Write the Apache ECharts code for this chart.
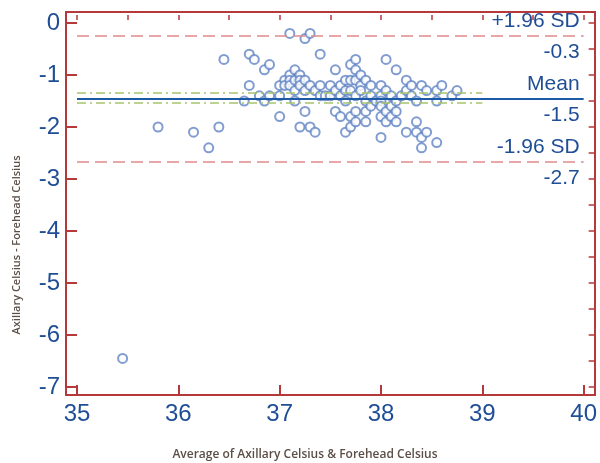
<!DOCTYPE html>
<html>
<head>
<meta charset="utf-8">
<script src="https://cdn.jsdelivr.net/npm/echarts@6/dist/echarts.min.js"></script>
<style>html,body{margin:0;padding:0;background:#fff}#c{width:600px;height:463px}</style>
</head>
<body>
<div id="c"></div>
<script>
// Bland-Altman data: [average, difference]
const points = [
  [35.45,-6.45],[35.8,-2.0],[36.15,-2.1],[36.3,-2.4],[36.4,-2.0],[36.45,-0.7],[36.65,-1.5],
  [36.7,-0.6],[36.75,-0.7],[36.7,-1.2],[36.8,-1.4],[36.85,-1.5],[36.85,-0.9],[36.9,-0.8],
  [36.9,-1.4],[37.0,-1.4],[37.0,-1.2],[37.0,-1.8],
  [37.05,-1.1],[37.05,-1.2],[37.1,-1.0],[37.1,-1.1],[37.1,-1.2],[37.1,-0.2],[37.15,-0.9],
  [37.15,-1.1],[37.15,-1.3],[37.15,-1.5],[37.2,-1.0],[37.2,-1.1],[37.2,-1.2],[37.2,-2.0],
  [37.25,-0.3],[37.25,-1.1],[37.25,-1.3],[37.25,-1.7],[37.3,-0.2],[37.3,-1.2],[37.3,-2.0],
  [37.35,-1.3],[37.35,-2.1],[37.4,-0.6],[37.4,-1.2],[37.4,-1.4],
  [37.45,-1.4],[37.5,-1.2],[37.5,-1.4],[37.55,-0.9],[37.55,-1.3],[37.55,-1.7],[37.6,-1.2],
  [37.6,-1.4],[37.6,-1.8],[37.65,-1.1],[37.65,-1.3],[37.65,-1.5],[37.65,-2.1],[37.7,-0.8],
  [37.7,-1.1],[37.7,-1.3],[37.7,-1.8],[37.7,-2.0],[37.75,-0.7],[37.75,-0.9],[37.75,-1.1],
  [37.75,-1.4],[37.75,-1.7],[37.75,-1.9],
  [37.8,-1.0],[37.8,-1.2],[37.8,-1.3],[37.85,-1.1],[37.85,-1.5],[37.85,-1.7],[37.85,-1.9],
  [37.9,-1.2],[37.9,-1.4],[37.9,-1.6],[37.95,-1.5],[38.0,-1.2],[38.0,-1.4],[38.0,-1.5],
  [38.0,-1.6],[38.0,-1.8],[38.0,-2.2],[38.05,-0.7],[38.05,-1.3],[38.05,-1.7],[38.05,-1.9],
  [38.1,-1.4],[38.1,-1.6],[38.1,-1.8],[38.15,-0.9],[38.15,-1.5],[38.15,-1.7],[38.15,-1.9],
  [38.2,-1.4],[38.25,-1.1],[38.25,-1.3],[38.25,-2.1],[38.3,-1.2],[38.3,-1.4],[38.35,-1.5],
  [38.35,-1.9],[38.35,-2.1],[38.4,-1.2],[38.4,-2.2],[38.4,-2.4],[38.45,-1.3],[38.45,-2.1],
  [38.55,-1.3],[38.55,-1.5],[38.55,-2.3],[38.6,-1.2],[38.7,-1.4],[38.75,-1.3]
];
const meanDiff = -1.46;
const upperLoA = -0.25;
const lowerLoA = -2.67;
const meanCI = [-1.35, -1.54];
const ciRange = [35, 39];
const refNames = ['+1.96 SD', 'Mean', '-1.96 SD'];
const xTicks = [35, 36, 37, 38, 39, 40];
const yRange = [-7, 0];

const BLUE = '#1f4e96';
const RED = '#b5383b';
const LRED = '#e08a8c';
const GREEN = '#a6c46c';
const FONT = 'Arial, "Liberation Sans", sans-serif';
const LBL = {fontFamily: FONT, fontSize: 21, color: BLUE};

function topLabel(t){ return {show:true, position:'insideEndTop', distance:[4,4], formatter:t, ...LBL}; }
function botLabel(t){ return {show:true, position:'insideEndBottom', distance:[4,6], formatter:t, ...LBL}; }

const refs = [
  [upperLoA, refNames[0], {color:LRED, type:[12,6], width:1.5}],
  [meanDiff, refNames[1], {color:'#1d5aa6', type:'solid', width:2}],
  [lowerLoA, refNames[2], {color:LRED, type:[12,6], width:1.5}]
];
const mlData = [];
refs.forEach(r => {
  mlData.push({yAxis:r[0], lineStyle:r[2], label:topLabel(r[1])});
  mlData.push({yAxis:r[0], lineStyle:{color:'rgba(0,0,0,0)', width:0}, label:botLabel(r[0].toFixed(1))});
});
meanCI.forEach(v => {
  mlData.push([{coord:[ciRange[0], v], lineStyle:{color:GREEN, type:[9,4,2,4], width:1.5}, label:{show:false}},
               {coord:[ciRange[1], v]}]);
});

function axis(min, max, interval, offset, tickLen, tickW, withLabel, lineShown, margin){
  return {
    type:'value', min:min, max:max, interval:interval, offset:offset,
    axisLine:{show:lineShown, onZero:false, lineStyle:{color:RED, width:2}},
    axisTick:{show:true, inside:true, length:tickLen, lineStyle:{color:RED, width:tickW}},
    splitLine:{show:false},
    axisLabel:{show:withLabel, margin:margin, fontFamily:FONT, fontSize:24, color:BLUE}
  };
}
const xMin = xTicks[0], xMax = xTicks[xTicks.length-1];

const chart = echarts.init(document.getElementById('c'), null, {renderer:'canvas'});
chart.setOption({
  animation:false,
  backgroundColor:'#ffffff',
  grid:{left:77, right:14, top:23, bottom:76},
  xAxis:[
    axis(xMin, xMax, 1, 8, 10, 2, true, true, 7),
    axis(xMin, xMax, 0.5, 8, 5, 1.5, false, false, 7)
  ],
  yAxis:[
    axis(yRange[0], yRange[1], 1, 11, 11, 2, true, true, 6),
    axis(yRange[0], yRange[1], 0.5, 11, 6, 1.5, false, false, 6)
  ],
  graphic:[
    {type:'rect', z:100, silent:true, shape:{x:66, y:12, width:529, height:383},
     style:{fill:'none', stroke:RED, lineWidth:2}},
    {type:'text', z:100, x:305, y:455, style:{text:'Average of Axillary Celsius & Forehead Celsius',
      align:'center', verticalAlign:'middle', font:'600 12px "Open Sans", sans-serif', fill:'#5b4e46'}},
    {type:'text', z:100, x:17, y:245, rotation:Math.PI/2, style:{text:'Axillary Celsius - Forehead Celsius',
      align:'center', verticalAlign:'middle', font:'600 11px "Open Sans", sans-serif', fill:'#5b4e46'}}
  ],
  series:[{
    type:'scatter',
    xAxisIndex:0, yAxisIndex:0,
    data:points,
    symbol:'emptyCircle',
    symbolSize:9,
    itemStyle:{color:'#6284c4', borderColor:'#6284c4', borderWidth:1.6},
    markLine:{silent:true, symbol:'none', animation:false, data:mlData}
  }]
});
</script>
</body>
</html>
